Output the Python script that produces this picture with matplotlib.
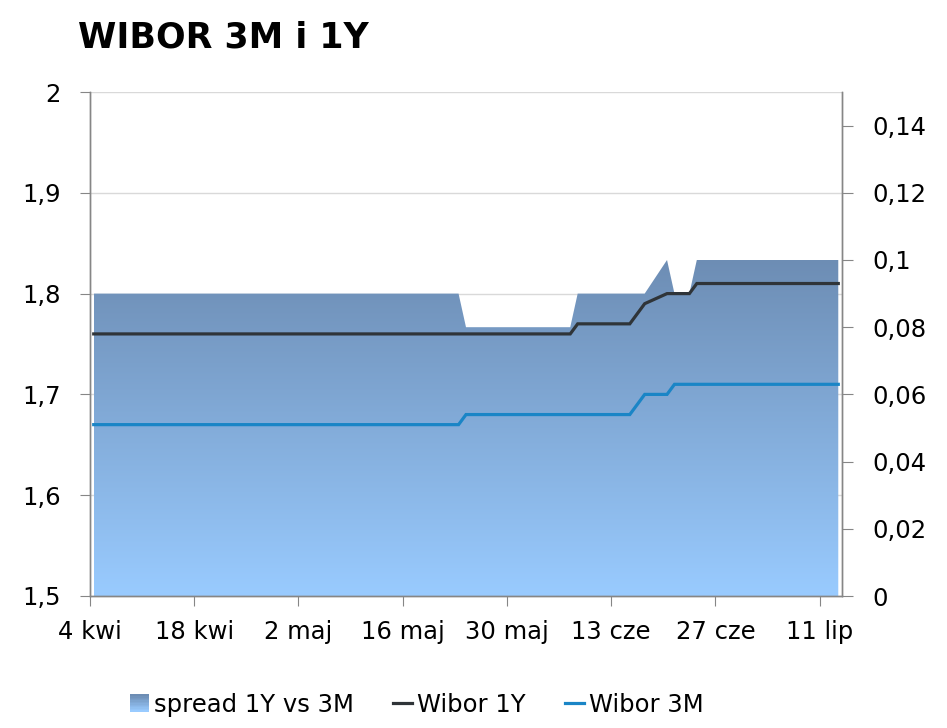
import numpy as np
import matplotlib.pyplot as plt
import matplotlib.dates as mdates
from matplotlib.patches import Patch, Rectangle
from matplotlib.lines import Line2D
from matplotlib.legend_handler import HandlerBase
from matplotlib.colors import LinearSegmentedColormap
from matplotlib.transforms import blended_transform_factory

# punkty zalamania notowan (2016), miedzy nimi wartosci stale
w1y_dates = ['2016-04-04', '2016-06-07', '2016-06-08', '2016-06-15', '2016-06-16',
             '2016-06-17', '2016-06-20', '2016-06-23', '2016-06-24', '2016-07-13']
w1y_vals = [1.76, 1.76, 1.77, 1.77, 1.78, 1.79, 1.80, 1.80, 1.81, 1.81]

w3m_dates = ['2016-04-04', '2016-05-23', '2016-05-24', '2016-06-15', '2016-06-16',
             '2016-06-17', '2016-06-20', '2016-06-21', '2016-07-13']
w3m_vals = [1.67, 1.67, 1.68, 1.68, 1.69, 1.70, 1.70, 1.71, 1.71]

spread_dates = ['2016-04-04', '2016-05-23', '2016-05-24', '2016-06-07', '2016-06-08',
                '2016-06-17', '2016-06-20', '2016-06-21', '2016-06-23', '2016-06-24',
                '2016-07-13']
spread_vals = [0.09, 0.09, 0.08, 0.08, 0.09, 0.09, 0.10, 0.09, 0.09, 0.10, 0.10]

tick_dates = ['2016-04-04', '2016-04-18', '2016-05-02', '2016-05-16',
              '2016-05-30', '2016-06-13', '2016-06-27', '2016-07-11']
tick_labels = ['4 kwi', '18 kwi', '2 maj', '16 maj', '30 maj', '13 cze', '27 cze', '11 lip']

left_ticks = [1.5, 1.6, 1.7, 1.8, 1.9, 2.0]
right_ticks = [0, 0.02, 0.04, 0.06, 0.08, 0.1, 0.12, 0.14]

C_1Y = '#2f3438'
C_3M = '#1a85c6'
C_TOP = '#6d8db4'
C_BOT = '#99cbff'
AX_COL = '#868686'
GRID_COL = '#d9d9d9'
FS = 17.5

cmap = LinearSegmentedColormap.from_list('sp', [C_BOT, C_TOP])


def to_num(d):
    # Excel rysuje punkt w srodku dnia
    return mdates.date2num(np.array(d, dtype='datetime64[D]')) + 0.5


def fmt(v):
    return ('%g' % v).replace('.', ',')


class GradHandler(HandlerBase):
    # kwadracik legendy z gradientem jak wypelnienie
    def create_artists(self, legend, orig, xd, yd, w, h, fs, trans):
        n = 12
        arts = []
        for i in range(n):
            r = Rectangle((xd, yd + h * i / n), w, h / n + 0.3,
                          facecolor=cmap(i / (n - 1)), edgecolor='none', transform=trans)
            arts.append(r)
        return arts


plt.rcParams['font.family'] = 'DejaVu Sans'

fig = plt.figure(figsize=(9.47, 7.28), dpi=100)
ax = fig.add_axes([90/947, 1-596/728, (842-90)/947, (596-92)/728])
axr = ax.twinx()
ax.set_zorder(2)
axr.set_zorder(1)
ax.patch.set_visible(False)

x0 = mdates.date2num(np.datetime64('2016-04-04'))
x1 = mdates.date2num(np.datetime64('2016-07-14'))
ax.set_xlim(x0, x1)
ax.set_ylim(1.5, 2.0)

# siatka pod wypelnieniem
tr = blended_transform_factory(axr.transAxes, ax.transData)
for v in left_ticks[1:]:
    axr.plot([0, 1], [v, v], color=GRID_COL, lw=1, transform=tr, zorder=0)

# spread z gradientem
xs = to_num(spread_dates)
poly = axr.fill_between(xs, 0, spread_vals, color='none', lw=0, zorder=1)
grad = np.linspace(0, 1, 256).reshape(-1, 1)
im = axr.imshow(grad, cmap=cmap, aspect='auto', origin='lower',
                extent=[xs[0], xs[-1], 0, max(spread_vals)], zorder=1)
im.set_clip_path(poly.get_paths()[0], transform=axr.transData)
axr.set_xlim(x0, x1)
axr.set_ylim(0, 0.15)

ax.plot(to_num(w1y_dates), w1y_vals, color=C_1Y, lw=2.3, solid_joinstyle='miter')
ax.plot(to_num(w3m_dates), w3m_vals, color=C_3M, lw=2.3, solid_joinstyle='miter')

ax.set_xticks(mdates.date2num(np.array(tick_dates, dtype='datetime64[D]')))
ax.set_xticklabels(tick_labels, fontsize=FS)
ax.set_yticks(left_ticks)
ax.set_yticklabels([fmt(v) for v in left_ticks], fontsize=FS)
axr.set_yticks(right_ticks)
axr.set_yticklabels([fmt(v) for v in right_ticks], fontsize=FS)

ax.tick_params(axis='y', direction='out', length=7, color=AX_COL, pad=14)
ax.tick_params(axis='x', direction='out', length=7, color=AX_COL, pad=10)
axr.tick_params(axis='y', direction='out', length=8, color=AX_COL, pad=14)

for a in (ax, axr):
    a.spines['top'].set_visible(False)
    for s in ('left', 'right', 'bottom'):
        a.spines[s].set_color(AX_COL)
        a.spines[s].set_linewidth(1)

fig.text(78/947, 1-47/728, 'WIBOR 3M i 1Y', fontsize=25, fontweight='bold',
         va='baseline', ha='left')

sp_handle = Patch(facecolor=C_TOP)
handles = [sp_handle,
           Line2D([], [], color=C_1Y, lw=2.3),
           Line2D([], [], color=C_3M, lw=2.3)]
fig.legend(handles, ['spread 1Y vs 3M', 'Wibor 1Y', 'Wibor 3M'],
           loc='center', bbox_to_anchor=(0.44, 0.032), ncol=3, frameon=False,
           fontsize=FS, handlelength=0.8, handleheight=0.7, handletextpad=0.2,
           columnspacing=1.6, handler_map={sp_handle: GradHandler()})

fig.savefig('out.png', dpi=100)
